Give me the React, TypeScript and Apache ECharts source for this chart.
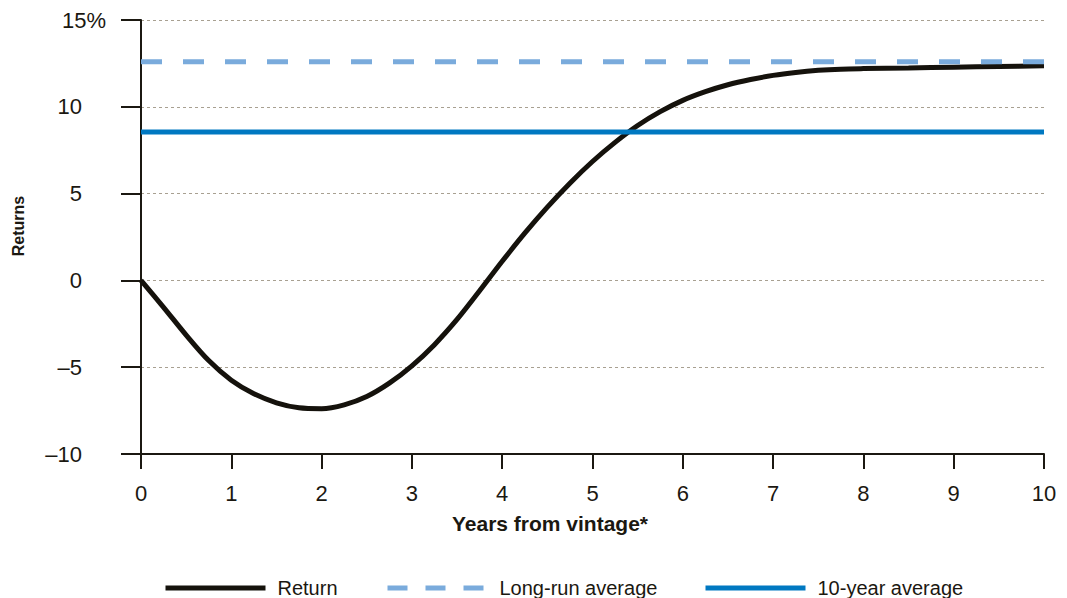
import React, { useEffect, useRef } from "react";
import * as echarts from "echarts";

const years = [0, 0.25, 0.5, 0.75, 1, 1.25, 1.5, 1.75, 2, 2.25, 2.5, 2.75, 3, 3.25, 3.5, 3.75, 4, 4.25, 4.5, 4.75, 5, 5.25, 5.5, 5.75, 6, 6.25, 6.5, 6.75, 7, 7.25, 7.5, 7.75, 8, 8.5, 9, 9.5, 10];
const returns = [0, -1.55, -3.15, -4.62, -5.75, -6.53, -7.05, -7.34, -7.39, -7.17, -6.69, -5.92, -4.92, -3.7, -2.25, -0.6, 1.1, 2.72, 4.22, 5.6, 6.85, 7.95, 8.92, 9.72, 10.37, 10.87, 11.27, 11.57, 11.81, 11.98, 12.1, 12.17, 12.2, 12.24, 12.28, 12.32, 12.36];
const longRunAverage = 12.6;
const tenYearAverage = 8.55;
const xRange = [0, 10];
const yTicks = [-10, -5, 0, 5, 10, 15];

const FONT = "'Liberation Sans', Arial, Helvetica, sans-serif";
const INK = "#1b1811";

export default function App() {
  const ref = useRef<HTMLDivElement>(null);
  useEffect(() => {
    if (!ref.current) return;
    const chart = echarts.init(ref.current, null, { renderer: "svg" });
    const returnData = years.map((x, i) => [x, returns[i]]);
    const longRunData = xRange.map((x) => [x, longRunAverage]);
    const tenYearData = xRange.map((x) => [x, tenYearAverage]);
    const legendBase = {
      top: 578,
      padding: 0,
      itemWidth: 100,
      itemHeight: 14,
      itemStyle: { opacity: 0 },
      lineStyle: { width: 5 },
      textStyle: { fontFamily: FONT, fontSize: 20, color: INK, padding: [0, 0, 0, 7] },
      selectedMode: false,
    };
    chart.setOption({
      animation: false,
      backgroundColor: "#ffffff",
      textStyle: { fontFamily: FONT },
      grid: { left: 141, right: 23, top: 20, bottom: 144, containLabel: false },
      legend: [
        { ...legendBase, left: 163, data: ["Return"] },
        { ...legendBase, left: 385, data: ["Long-run average"], lineStyle: { width: 5, type: [20, 18] } },
        { ...legendBase, left: 703, data: ["10-year average"] },
      ],
      xAxis: {
        type: "value",
        min: xRange[0],
        max: xRange[1],
        interval: 1,
        axisLine: { onZero: false, lineStyle: { color: INK, width: 2 } },
        axisTick: { show: true, length: 15, lineStyle: { color: INK, width: 2 } },
        axisLabel: { fontSize: 22, color: INK, margin: 28, fontFamily: FONT },
        splitLine: { show: false },
      },
      yAxis: {
        type: "value",
        min: yTicks[0],
        max: yTicks[yTicks.length - 1],
        interval: 5,
        axisLine: { show: true, onZero: false, lineStyle: { color: INK, width: 2 } },
        axisTick: { show: true, length: 20, lineStyle: { color: INK, width: 2 } },
        axisLabel: {
          fontSize: 22,
          color: INK,
          margin: 59,
          fontFamily: FONT,
          formatter: (v: number) => {
            if (v === 15) return "{p|15%}";
            if (v < 0) return "\u2013" + Math.abs(v);
            return String(v);
          },
          rich: {
            p: { fontSize: 22, color: INK, fontFamily: FONT, padding: [0, -24, 0, 0] },
          },
        },
        splitLine: {
          show: true,
          lineStyle: { color: "#a8a091", width: 1, type: [3, 3] },
        },
      },
      graphic: [
        {
          type: "text",
          x: 550,
          y: 523,
          style: {
            text: "Years from vintage*",
            align: "center",
            verticalAlign: "middle",
            font: `bold 21px ${FONT}`,
            fill: INK,
          },
        },
        {
          type: "text",
          x: 18,
          y: 226,
          rotation: Math.PI / 2,
          style: {
            text: "Returns",
            align: "center",
            verticalAlign: "middle",
            font: `bold 16px ${FONT}`,
            fill: INK,
          },
        },
      ],
      series: [
        {
          name: "Return",
          type: "line",
          data: returnData,
          smooth: 0.3,
          symbol: "none",
          lineStyle: { color: "#15120c", width: 5 },
          itemStyle: { color: "#15120c" },
          z: 2,
        },
        {
          name: "Long-run average",
          type: "line",
          data: longRunData,
          symbol: "none",
          lineStyle: { color: "#7aabdc", width: 5, type: [21, 21] },
          itemStyle: { color: "#7aabdc" },
          z: 3,
        },
        {
          name: "10-year average",
          type: "line",
          data: tenYearData,
          symbol: "none",
          lineStyle: { color: "#0078c1", width: 5 },
          itemStyle: { color: "#0078c1" },
          z: 3,
        },
      ],
    });
    return () => chart.dispose();
  }, []);
  return <div ref={ref} style={{ width: 1067, height: 598, position: "absolute", left: 0, top: 0 }} />;
}
